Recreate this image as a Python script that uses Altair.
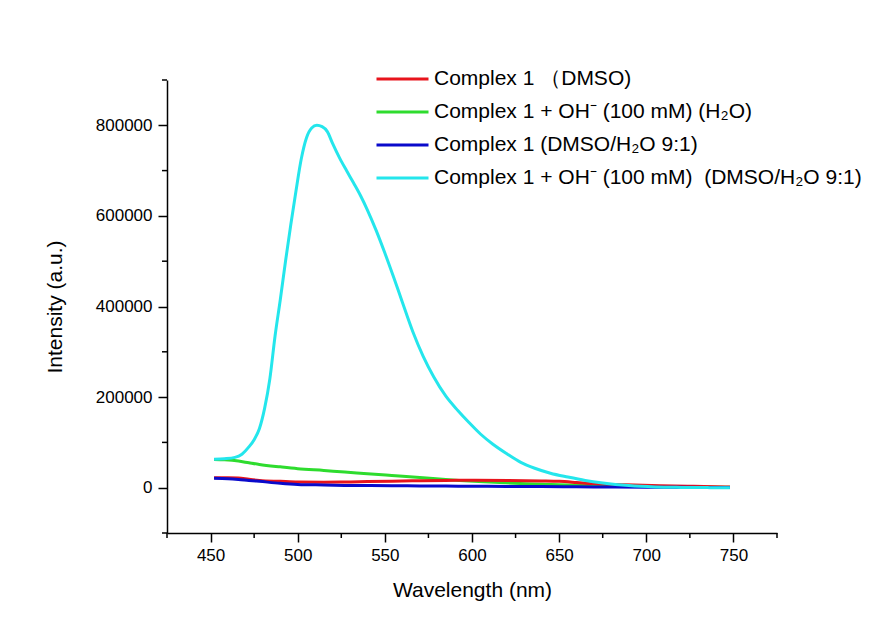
import altair as alt
import pandas as pd

# ---- data ----
labels = [
    "Complex 1 \uff08DMSO)",
    "Complex 1 + OH\u207b (100 mM) (H\u2082O)",
    "Complex 1 (DMSO/H\u2082O 9:1)",
    "Complex 1 + OH\u207b (100 mM) \u00a0(DMSO/H\u2082O 9:1)",
]
colors = ["#E8141C", "#2EDC2E", "#0A0ACB", "#24E6EC"]

red_wl = [452, 460, 466, 472, 478, 490, 500, 515, 527, 540, 554, 570, 585, 600, 621, 640, 650, 660, 669, 688, 708, 727, 748]
red_int = [22000, 22000, 21500, 18500, 16000, 14000, 12500, 12300, 12500, 13500, 14500, 15300, 16000, 16300, 16000, 15000, 14000, 11500, 9000, 6500, 4500, 3000, 1500]

green_wl = [452, 458, 466, 472, 478, 490, 500, 515, 527, 540, 554, 570, 585, 593, 610, 631, 650, 669, 690, 708, 728, 748]
green_int = [62500, 61500, 58700, 55000, 51400, 46000, 42000, 38000, 34500, 31000, 27000, 22500, 18000, 16000, 12500, 8800, 6500, 5000, 3800, 2900, 1800, 1000]

blue_wl = [452, 460, 466, 472, 478, 490, 500, 515, 527, 540, 554, 570, 585, 600, 620, 640, 660, 680, 700, 720, 748]
blue_int = [21000, 20000, 18300, 16000, 14000, 9800, 7300, 6000, 5100, 4700, 4400, 3900, 3500, 3200, 2900, 2400, 2000, 1600, 1200, 900, 500]

cyan_wl = [452, 458, 464, 468, 472, 475, 478, 481, 484, 487, 490, 493, 496, 499, 502, 505, 508, 511,
           514, 517, 520, 524, 528, 532, 536, 540, 545, 550, 555, 560, 566, 572, 578, 585, 592, 598,
           605, 612, 620, 628, 636, 645, 655, 665, 675, 690, 705, 720, 735, 748]
cyan_int = [63000, 64000, 67000, 74000, 90000, 106000, 130000, 175000, 240000, 335000, 415000, 500000,
            580000, 655000, 725000, 772000, 794000, 800000, 797000, 786000, 760000, 728000, 700000,
            673000, 645000, 613000, 568000, 518000, 465000, 410000, 345000, 290000, 245000, 202000,
            170000, 145000, 118000, 96000, 75000, 56000, 43000, 32000, 23500, 16000, 10500, 4800,
            1800, 700, 200, 0]

x_major = [450, 500, 550, 600, 650, 700, 750]
x_minor = [425, 475, 525, 575, 625, 675, 725, 775]
y_major = [0, 200000, 400000, 600000, 800000]
y_minor = [-100000, 100000, 300000, 500000, 700000, 900000]

# ---- build table (draw order: green, red, blue, cyan) ----
rows = []
for wl, it, lab in [(green_wl, green_int, labels[1]), (red_wl, red_int, labels[0]),
                    (blue_wl, blue_int, labels[2]), (cyan_wl, cyan_int, labels[3])]:
    for w, v in zip(wl, it):
        rows.append({"wl": w, "val": v, "series": lab})
df = pd.DataFrame(rows)

FONT = "Liberation Sans"
W, H = 610, 453
xscale = alt.Scale(domain=[425, 775], nice=False, zero=False)
yscale = alt.Scale(domain=[-100000, 900000], nice=False, zero=False)

lines = alt.Chart(df).mark_line(strokeWidth=3, interpolate="monotone").encode(
    x=alt.X("wl:Q", scale=xscale,
            axis=alt.Axis(title="Wavelength (nm)", values=x_major, format="d", grid=False,
                          tickSize=9, tickWidth=1.5, domainWidth=1.5, domainColor="black",
                          tickColor="black", labelFont=FONT, labelFontSize=17, labelColor="black",
                          labelPadding=5, titleFont=FONT, titleFontSize=21, titleFontWeight="normal",
                          titleColor="black", titlePadding=16)),
    y=alt.Y("val:Q", scale=yscale,
            axis=alt.Axis(title="Intensity (a.u.)", values=y_major, format="d", grid=False,
                          tickSize=9, tickWidth=1.5, domainWidth=1.5, domainColor="black",
                          tickColor="black", labelFont=FONT, labelFontSize=17, labelColor="black",
                          labelPadding=6, titleFont=FONT, titleFontSize=21, titleFontWeight="normal",
                          titleColor="black", titlePadding=30)),
    color=alt.Color("series:N",
                    scale=alt.Scale(domain=labels, range=colors),
                    legend=alt.Legend(title=None, orient="none", legendX=208, legendY=-13,
                                      symbolType="stroke", symbolSize=2704, symbolStrokeWidth=3,
                                      clipHeight=24, rowPadding=9, labelFont=FONT,
                                      labelFontSize=21, labelColor="black", labelOffset=4,
                                      labelLimit=700, padding=0)),
    detail="series:N",
)

xminor = alt.Chart(pd.DataFrame({"v": x_minor})).mark_rule(color="black", strokeWidth=1.5).encode(
    x=alt.X("v:Q", scale=xscale, axis=None),
    y=alt.value(H), y2=alt.value(H + 5),
)
yminor = alt.Chart(pd.DataFrame({"v": y_minor})).mark_rule(color="black", strokeWidth=1.5).encode(
    y=alt.Y("v:Q", scale=yscale, axis=None),
    x=alt.value(0), x2=alt.value(-5),
)

chart = alt.layer(lines, xminor, yminor).resolve_axis(x="independent", y="independent").properties(
    width=W, height=H,
    autosize=alt.AutoSizeParams(type="none"),
    padding={"left": 167, "top": 80, "right": 106, "bottom": 92},
    background="white",
).configure_view(stroke=None)

chart.save("out.html", embed_options={"renderer": "svg", "actions": False})
